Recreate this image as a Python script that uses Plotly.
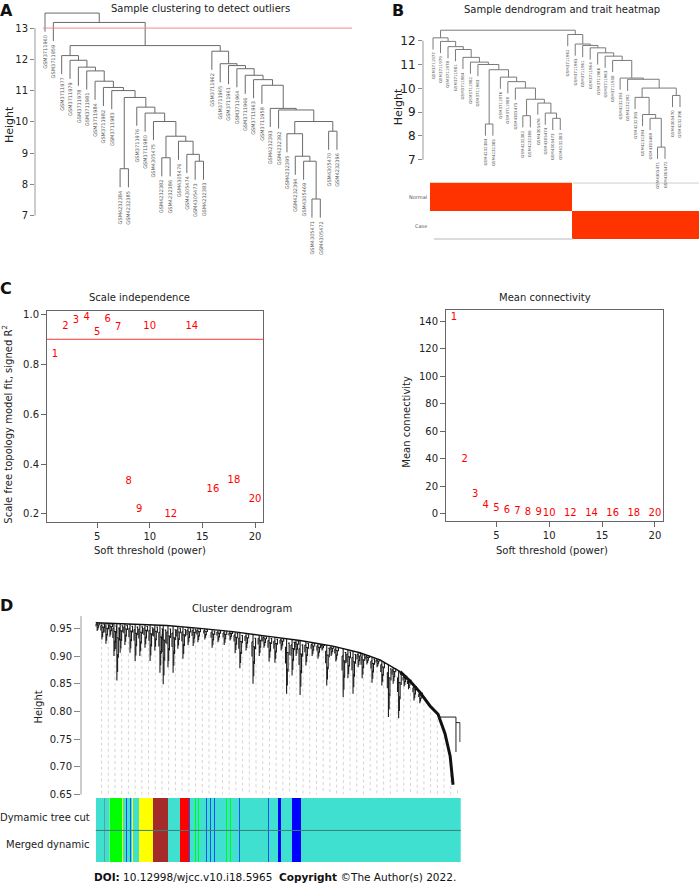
import numpy as np
import plotly.graph_objects as go

W, H = 700, 891
FONT = "DejaVu Sans"


def px(x):
    return x / W


def py(y):
    return 1 - y / H


# ---------------- Panel A / B : sample clustering tree ----------------
sample_names = [
    "GSM3711960", "GSM3711959", "GSM3711977", "GSM3711979", "GSM3711978", "GSM3711981",
    "GSM3711984", "GSM3711982", "GSM3711983", "GSM4232384", "GSM4232385", "GSM3711976",
    "GSM3711980", "GSM4305475", "GSM4232382", "GSM4232386", "GSM4305476", "GSM4305474",
    "GSM4305473", "GSM4232383", "GSM3711962", "GSM3711965", "GSM3711961", "GSM3711964",
    "GSM3711966", "GSM3711963", "GSM3711958", "GSM4232393", "GSM4232392", "GSM4232395",
    "GSM4232394", "GSM4305469", "GSM4305471", "GSM4305472", "GSM4305470", "GSM4232396"]
# hclust-style merge table: negative = sample (1-based), positive = earlier merge row
merge_left = [-10, -15, -19, -18, -17, 2, -14, -13, -12, 1, -9, -8, -7, -6, -5, -4, -3,
              -33, -32, -31, -30, -35, 21, -29, -28, -27, -26, -25, -24, -23, -22, -21, 17, -2, -1]
merge_right = [-11, -16, -20, 3, 4, 5, 6, 7, 8, 9, 10, 11, 12, 13, 14, 15, 16,
               -34, 18, 19, 20, -36, 22, 23, 24, 25, 26, 27, 28, 29, 30, 31, 32, 33, 34]
merge_height = [8.50, 8.85, 8.74, 8.96, 9.38, 9.54, 10.01, 10.28, 10.47, 10.78, 11.00, 11.10,
                11.30, 11.63, 11.75, 11.97, 12.12,
                7.53, 8.74, 8.90, 9.62, 9.70, 10.01, 10.38, 10.43, 11.17, 11.35, 11.49, 11.70,
                11.80, 11.86, 12.26, 12.44, 13.18, 13.48]
cut_height = 13
root_A = 35
root_B = 33

trait_rows = ["Normal", "Case"]
trait_normal = [1, 1, 1, 1, 1, 1, 1, 1, 1, 1, 1, 1, 1, 1, 1, 1, 1, 1,
                0, 0, 0, 0, 0, 0, 0, 0, 0, 0, 0, 0, 0, 0, 0, 0]
trait_case = [0, 0, 0, 0, 0, 0, 0, 0, 0, 0, 0, 0, 0, 0, 0, 0, 0, 0,
              1, 1, 1, 1, 1, 1, 1, 1, 1, 1, 1, 1, 1, 1, 1, 1]

# ---------------- Panel C : soft threshold ----------------
powers = [1, 2, 3, 4, 5, 6, 7, 8, 9, 10, 12, 14, 16, 18, 20]
sft_r2 = [0.838, 0.951, 0.977, 0.987, 0.928, 0.981, 0.948, 0.329, 0.218, 0.953,
          0.196, 0.953, 0.296, 0.333, 0.258]
mean_k = [142.6, 39.0, 14.0, 6.1, 3.6, 1.9, 1.2, 0.8, 0.6, 0.4, 0.2, 0.1, 0.07, 0.05, 0.03]
r2_cut = 0.90

# ---------------- Panel D : gene dendrogram ----------------
env_g = [0, 94, 195, 286, 376, 468, 560, 650, 724, 779, 806, 834]
env_h = [0.960, 0.958, 0.955, 0.950, 0.944, 0.936, 0.928, 0.918, 0.906, 0.893, 0.883, 0.872]
chain_g = [834, 861, 888, 916, 938, 957, 971, 979]
chain_h = [0.872, 0.855, 0.835, 0.810, 0.795, 0.760, 0.720, 0.668]
drop_g = [4, 17, 28, 39, 50, 58, 67, 80, 94, 108, 121, 135, 149, 162, 176, 185, 198, 212,
          225, 239, 253, 267, 280, 299, 319, 335, 352, 368, 382, 395, 412, 431, 448, 461,
          475, 491, 508, 523, 538, 549, 560, 576, 593, 609, 620, 633, 645, 658, 678, 691,
          705, 719, 730, 743, 757, 771, 784, 802, 815, 830, 845, 857, 872, 888]
drop_low = [0.945, 0.930, 0.922, 0.935, 0.900, 0.856, 0.906, 0.920, 0.906, 0.891, 0.900,
            0.915, 0.891, 0.910, 0.870, 0.849, 0.880, 0.870, 0.913, 0.895, 0.920, 0.918,
            0.925, 0.930, 0.915, 0.925, 0.920, 0.928, 0.905, 0.878, 0.910, 0.850, 0.900,
            0.915, 0.890, 0.888, 0.910, 0.832, 0.865, 0.900, 0.830, 0.883, 0.900, 0.895,
            0.910, 0.847, 0.900, 0.890, 0.826, 0.860, 0.832, 0.880, 0.860, 0.885, 0.852,
            0.880, 0.847, 0.790, 0.850, 0.788, 0.845, 0.840, 0.820, 0.815]
side_g = [938, 987, 998]
side_h = [0.790, 0.727, 0.745]

module_start = [23, 36, 39, 73, 82, 93, 100, 119, 157, 231, 256, 271, 279, 303, 312, 324,
                358, 367, 392, 472, 500, 537]
module_end = [26, 39, 71, 76, 85, 96, 103, 156, 199, 256, 259, 274, 282, 306, 315, 327,
              361, 370, 395, 475, 507, 562]
module_color = ["#5f9f9a", "#7ee8a0", "#00ff00", "#ffff00", "#2050f0", "#2050f0", "#ffff00",
                "#ffff00", "#a52a2a", "#ff0000", "#2050f0", "#00ff00", "#00ff00", "#2050f0",
                "#2050f0", "#2050f0", "#00ff00", "#00ff00", "#2050f0", "#2050f0", "#0000ff",
                "#0000ff"]
module_rows = ["Merged dynamic", "Dymamic tree cut"]
n_genes = 1000


# ---------------- helpers ----------------
def tree_lines(root):
    leaves = []

    def collect(n):
        if n < 0:
            leaves.append(-n)
            return
        collect(merge_left[n - 1])
        collect(merge_right[n - 1])

    collect(root)
    used = []

    def heights(n):
        if n > 0:
            used.append(merge_height[n - 1])
            heights(merge_left[n - 1])
            heights(merge_right[n - 1])

    heights(root)
    hang = 0.1 * (max(used) - min(used))
    pos = {lf: i for i, lf in enumerate(leaves)}
    xs, ys, tips = [], [], {}

    def walk(n):
        if n < 0:
            return pos[-n], None
        h = merge_height[n - 1]
        a, b = merge_left[n - 1], merge_right[n - 1]
        xa, ha = walk(a)
        xb, hb = walk(b)
        for c, xc, hc in ((a, xa, ha), (b, xb, hb)):
            if hc is None:
                hc = h - hang
                tips[-c] = hc
            xs.extend([xc, xc, None])
            ys.extend([h, hc, None])
        xs.extend([xa, xb, None])
        ys.extend([h, h, None])
        return (xa + xb) / 2, h

    walk(root)
    return leaves, pos, tips, xs, ys


fig = go.Figure()
annotations = []
shapes = []

# ---------- Panel A ----------
leavesA, posA, tipsA, xsA, ysA = tree_lines(root_A)
fig.add_trace(go.Scatter(x=xsA, y=ysA, mode="lines", line=dict(color="#6a6a6a", width=1),
                         xaxis="x", yaxis="y", hoverinfo="skip", showlegend=False))
for lf in leavesA:
    annotations.append(dict(x=posA[lf], y=tipsA[lf], xref="x", yref="y", text=sample_names[lf - 1],
                            textangle=-90, showarrow=False, xanchor="center", yanchor="top",
                            font=dict(family=FONT, size=5, color="#555"), yshift=-1))
shapes.append(dict(type="line", xref="x domain", yref="y", x0=0.025, x1=1, y0=cut_height,
                   y1=cut_height, line=dict(color="#f08a8a", width=1)))
shapes.append(dict(type="line", xref="paper", yref="y", x0=px(35), x1=px(35), y0=7, y1=13,
                   line=dict(color="#999", width=1)))

# ---------- Panel B ----------
leavesB, posB, tipsB, xsB, ysB = tree_lines(root_B)
fig.add_trace(go.Scatter(x=xsB, y=ysB, mode="lines", line=dict(color="#7a7a7a", width=1),
                         xaxis="x2", yaxis="y2", hoverinfo="skip", showlegend=False))
for lf in leavesB:
    annotations.append(dict(x=posB[lf], y=tipsB[lf], xref="x2", yref="y2", text=sample_names[lf - 1],
                            textangle=-90, showarrow=False, xanchor="center", yanchor="top",
                            font=dict(family=FONT, size=4, color="#555"), yshift=-1))
shapes.append(dict(type="line", xref="paper", yref="y2", x0=px(423), x1=px(423), y0=7, y1=12,
                   line=dict(color="#999", width=1)))

fig.add_trace(go.Heatmap(z=[trait_normal, trait_case], x=list(range(len(trait_normal))),
                         y=[0, 1], colorscale=[[0, "#ffffff"], [1, "#ff3300"]], showscale=False,
                         xaxis="x3", yaxis="y3", hoverinfo="skip"))
shapes.append(dict(type="line", xref="paper", yref="paper", x0=px(573), x1=px(699), y0=py(183.5),
                   y1=py(183.5), line=dict(color="#cfcfcf", width=1)))
shapes.append(dict(type="line", xref="paper", yref="paper", x0=px(434), x1=px(573), y0=py(240),
                   y1=py(240), line=dict(color="#cfcfcf", width=1.5)))
annotations.append(dict(x=px(429), y=py(198), xref="paper", yref="paper", text=trait_rows[0],
                        showarrow=False, xanchor="right", yanchor="middle",
                        font=dict(family=FONT, size=5, color="#555")))
annotations.append(dict(x=px(429), y=py(227), xref="paper", yref="paper", text=trait_rows[1],
                        showarrow=False, xanchor="right", yanchor="middle",
                        font=dict(family=FONT, size=5, color="#555")))

# ---------- Panel C ----------
shapes.append(dict(type="line", xref="x4", yref="y4", x0=0.24, x1=20.76, y0=r2_cut, y1=r2_cut,
                   layer="above", line=dict(color="#ff6060", width=1.2)))
fig.add_trace(go.Scatter(x=powers, y=sft_r2, mode="text", text=[str(p) for p in powers],
                         textfont=dict(family=FONT, size=10, color="#ff0000"),
                         xaxis="x4", yaxis="y4", hoverinfo="skip", showlegend=False))
fig.add_trace(go.Scatter(x=powers, y=mean_k, mode="text", text=[str(p) for p in powers],
                         textfont=dict(family=FONT, size=10, color="#ff0000"),
                         xaxis="x5", yaxis="y5", hoverinfo="skip", showlegend=False))

# ---------- Panel D ----------
prof_g = env_g + chain_g[1:]
prof_h = env_h + chain_h[1:]
guide_pos = np.arange(16, n_genes, 18.4)
gx, gy = [], []
for g in guide_pos:
    gx += [g, g, None]
    gy += [float(np.interp(g, prof_g, prof_h)) - 0.01, 0.65, None]
fig.add_trace(go.Scatter(x=gx, y=gy, mode="lines", line=dict(color="#d4d4d4", width=1, dash="dot"),
                         xaxis="x6", yaxis="y6", hoverinfo="skip", showlegend=False))

dx, dy = [], []
tops = np.interp(drop_g, prof_g, prof_h)
for g, t, b in zip(drop_g, tops, drop_low):
    d = t - b
    dx += [g, g, None]
    dy += [t, b, None]
    h1 = t - 0.25 * d
    dx += [g, g + 4, g + 4, None]
    dy += [h1, h1, t - 0.6 * d, None]
    h2 = t - 0.15 * d
    dx += [g - 3, g, None, g - 3, g - 3, None]
    dy += [h2, h2, None, h2, t - 0.45 * d, None]
    h3 = t - 0.55 * d
    dx += [g, g + 2, g + 2, None]
    dy += [h3, h3, t - 0.85 * d, None]
    h4 = t - 0.08 * d
    dx += [g + 4, g + 7, g + 7, None]
    dy += [h4, h4, t - 0.3 * d, None]
fig.add_trace(go.Scatter(x=dx, y=dy, mode="lines", line=dict(color="#1a1a1a", width=1.1),
                         xaxis="x6", yaxis="y6", hoverinfo="skip", showlegend=False))
fig.add_trace(go.Scatter(x=env_g, y=env_h, mode="lines", line=dict(color="#111", width=1.4),
                         xaxis="x6", yaxis="y6", hoverinfo="skip", showlegend=False))
fig.add_trace(go.Scatter(x=chain_g, y=chain_h, mode="lines", line=dict(color="#111", width=3),
                         xaxis="x6", yaxis="y6", hoverinfo="skip", showlegend=False))
sx = [side_g[0], side_g[1], None, side_g[1], side_g[1], None, side_g[1], side_g[2], side_g[2], None]
sy = [side_h[0], side_h[0], None, side_h[0], side_h[1], None, side_h[0] - 0.01, side_h[0] - 0.01,
      side_h[2], None]
fig.add_trace(go.Scatter(x=sx, y=sy, mode="lines", line=dict(color="#222", width=1),
                         xaxis="x6", yaxis="y6", hoverinfo="skip", showlegend=False))
shapes.append(dict(type="line", xref="paper", yref="y6", x0=px(81), x1=px(81), y0=0.65, y1=0.972,
                   line=dict(color="#999", width=1)))

# module colour bars
for row in module_rows:
    fig.add_trace(go.Bar(y=[row], x=[n_genes], base=[0], orientation="h", width=1,
                         marker=dict(color="#40e0d0", line=dict(width=0)),
                         xaxis="x7", yaxis="y7", hoverinfo="skip", showlegend=False))
    fig.add_trace(go.Bar(y=[row] * len(module_start),
                         x=[e - s for s, e in zip(module_start, module_end)],
                         base=module_start, orientation="h", width=1,
                         marker=dict(color=module_color, line=dict(width=0)),
                         xaxis="x7", yaxis="y7", hoverinfo="skip", showlegend=False))
shapes.append(dict(type="line", xref="paper", yref="paper", x0=px(95.7), x1=px(460.7),
                   y0=py(836), y1=py(836), line=dict(color="#3b7f78", width=1)))


# ---------- text ----------
def txt(x, y, s, size=10, anchor="center", angle=0, color="#222"):
    annotations.append(dict(x=px(x), y=py(y), xref="paper", yref="paper", text=s,
                            showarrow=False, xanchor=anchor, yanchor="middle", textangle=angle,
                            font=dict(family=FONT, size=size, color=color)))


for letter, x, y in (("A", 6, 10), ("B", 398, 10), ("C", 6, 290), ("D", 6, 609)):
    txt(x, y, "<b>%s</b>" % letter, size=16, color="#111")

txt(200, 8, "Sample clustering to detect outliers", 10)
txt(9, 125, "Height", 11, angle=-90)
txt(562, 9, "Sample dendrogram and trait heatmap", 10)
txt(398, 107, "Height", 11, angle=-90)
txt(139, 299, "Scale independence", 10)
txt(150, 554, "Soft threshold (power)", 10)
txt(7, 427, "Scale free topology model fit, signed R<sup>2</sup>", 10, angle=-90)
txt(545, 299, "Mean connectivity", 10)
txt(552, 554, "Soft threshold (power)", 10)
txt(407, 424, "Mean connectivity", 10, angle=-90)
txt(242, 612, "Cluster dendrogram", 10)
txt(38, 712, "Height", 10, angle=-90)
txt(92, 823, "Dymamic tree cut", 10, anchor="right")
txt(92, 850, "Merged dynamic", 10, anchor="right")
txt(275, 883, "<b>DOI:</b> 10.12998/wjcc.v10.i18.5965  <b>Copyright</b> ©The Author(s) 2022.", 10.5,
    color="#111")

# ---------- axes ----------
tickfont = dict(family=FONT, size=10, color="#222")
hidden = dict(visible=False, showgrid=False, zeroline=False)


def yax(domain_px, rng, vals, size=10, ticklen=4, **kw):
    d = dict(domain=[py(domain_px[1]), py(domain_px[0])], range=rng, tickvals=vals,
             ticks="outside", ticklen=ticklen, tickcolor="#888", showgrid=False, zeroline=False,
             showline=False, tickfont=dict(family=FONT, size=size, color="#222"))
    d.update(kw)
    return d


box = dict(showline=True, mirror=True, linecolor="#666", linewidth=1, ticks="outside",
           ticklen=5, tickcolor="#666", showgrid=False, zeroline=False, tickfont=tickfont)

fig.update_layout(
    width=W, height=H, margin=dict(l=0, r=0, t=0, b=0), paper_bgcolor="white",
    plot_bgcolor="rgba(0,0,0,0)", showlegend=False, barmode="overlay", bargap=0,
    font=dict(family=FONT), hovermode=False,
    xaxis=dict(domain=[px(35), px(352)], range=[-1.2, 36.8], anchor="y", **hidden),
    yaxis=yax((5, 250), [5.93, 13.708], [7, 8, 9, 10, 11, 12, 13], anchor="x"),
    xaxis2=dict(domain=[px(423), px(699)], range=[-1.34, 35.54], anchor="y2", **hidden),
    yaxis2=yax((20, 178), [12 - 138 / 24, 12 + 20 / 24], [7, 8, 9, 10, 11, 12], size=12,
               anchor="x2"),
    xaxis3=dict(domain=[px(430), px(699)], range=[-0.5, 33.5], anchor="y3", **hidden),
    yaxis3=dict(domain=[py(240), py(183)], range=[1.5, -0.5], anchor="x3", **hidden),
    xaxis4=dict(domain=[px(47), px(263)], range=[0.24, 20.76], tickvals=[5, 10, 15, 20],
                anchor="y4", **box),
    yaxis4=dict(domain=[py(525), py(312)], range=[0.168, 1.016], tickvals=[0.2, 0.4, 0.6, 0.8, 1.0],
                tickformat=".1f", anchor="x4", **box),
    xaxis5=dict(domain=[px(446), px(663)], range=[0.24, 20.76], tickvals=[5, 10, 15, 20],
                anchor="y5", **box),
    yaxis5=dict(domain=[py(524), py(311)], range=[-5.3, 148.4],
                tickvals=[0, 20, 40, 60, 80, 100, 120, 140], anchor="x5", **box),
    xaxis6=dict(domain=[px(81), px(460.7)], range=[-40.3, 1000], anchor="y6", **hidden),
    yaxis6=yax((618, 800), [0.65, 0.9756], [0.65, 0.70, 0.75, 0.80, 0.85, 0.90, 0.95],
               ticklen=6, tickformat=".2f", anchor="x6"),
    xaxis7=dict(domain=[px(95.7), px(460.7)], range=[0, 1000], anchor="y7", **hidden),
    yaxis7=dict(domain=[py(868), py(803)], anchor="x7", type="category", **hidden),
    annotations=annotations, shapes=shapes,
)

fig.write_html("out.html", config={"displayModeBar": False, "staticPlot": True},
               post_script="document.body.style.margin='0px';document.body.style.overflow='hidden';")
